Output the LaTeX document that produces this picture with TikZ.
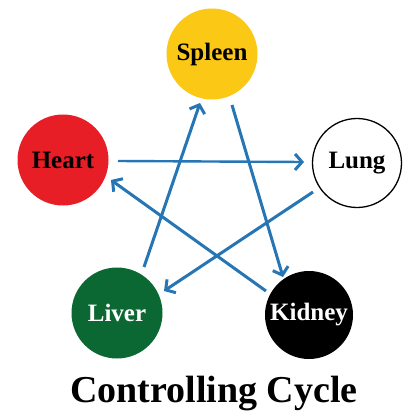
\documentclass[tikz,border=0pt]{standalone}
\usepackage{fontspec}
\setmainfont{Liberation Serif}
\usetikzlibrary{arrows.meta,calc}
\definecolor{spleenY}{RGB}{252,200,22}
\definecolor{heartR}{RGB}{232,30,38}
\definecolor{liverG}{RGB}{12,104,50}
\definecolor{arrowB}{RGB}{38,118,182}
\tikzset{
  organ/.style={circle, minimum size=91pt, inner sep=0pt, font=\fontsize{25}{25}\selectfont\bfseries},
  ctrl/.style={draw=arrowB, line width=3pt, -{Straight Barb[length=7pt,width=16pt,line width=3pt]}}
}
\begin{document}
\begin{tikzpicture}[x=1pt,y=-1pt]
\useasboundingbox[fill=white] (0,0) rectangle (409,418);
\node[organ, fill=spleenY, text=black] (spleen) at (212,54) {Spleen};
\node[organ, fill=heartR, text=black] (heart) at (63,160) {Heart};
\node[organ, fill=white, draw=black, line width=1.3pt, minimum size=89pt, text=black] (lung) at (357,163) {Lung};
\node[organ, fill=liverG, text=white] (liver) at (117,313) {Liver};
\node[organ, fill=black, text=white, minimum size=88pt] (kidney) at (309,315) {Kidney};
\node[font=\fontsize{38}{38}\selectfont\bfseries] (title) at (214,394) {Controlling Cycle};
\draw[ctrl, line width=2.4pt] ($(heart.center)+(55,1)$) -- ($(lung.center)+(-53,-1)$);
\draw[ctrl] ($(lung.center)+(-44,29)$) -- ($(liver.center)+(47,-22)$);
\draw[ctrl] ($(liver.center)+(27,-46)$) -- ($(spleen.center)+(-12,49)$);
\draw[ctrl] ($(spleen.center)+(20,51)$) -- ($(kidney.center)+(-26,-38)$);
\draw[ctrl] ($(kidney.center)+(-43,-24)$) -- ($(heart.center)+(48,20)$);
\end{tikzpicture}
\end{document}
